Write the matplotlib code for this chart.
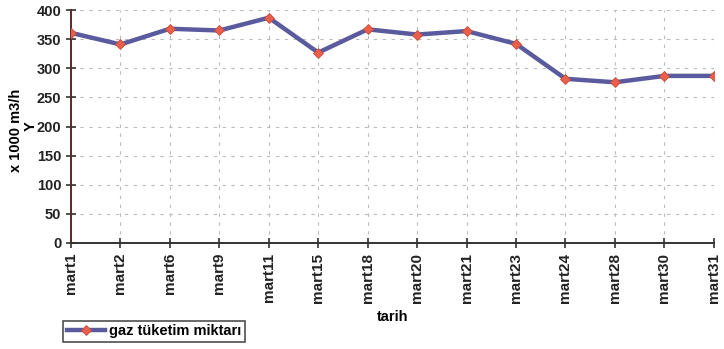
import numpy as np
import matplotlib.pyplot as plt
from matplotlib.ticker import MultipleLocator

days = ["mart1", "mart2", "mart6", "mart9", "mart11", "mart15", "mart18",
        "mart20", "mart21", "mart23", "mart24", "mart28", "mart30", "mart31"]
gas = [361, 341, 368, 365, 387, 327, 367, 358, 364, 342, 282, 276, 287, 287]

plt.rcParams['font.family'] = ['Liberation Sans', 'DejaVu Sans']
plt.rcParams['font.weight'] = 'bold'

fig = plt.figure(figsize=(7.24, 3.49), dpi=100)
ax = fig.add_axes([0.098, 0.304, 0.888, 0.667])

x = np.arange(len(days))
ax.plot(x, gas, color="#5a5a9e", lw=3.2, marker="D", ms=5.5,
        mfc="#e8604c", mec="#c84a3a", mew=0.6, label="gaz tüketim miktarı",
        zorder=3)

ax.set_xlim(0, len(days) - 1)
ax.set_ylim(0, 400)
ax.yaxis.set_major_locator(MultipleLocator(50))
ax.set_xticks(x)
ax.set_xticklabels(days, rotation=90, fontsize=11, fontweight='bold')
for lab in ax.get_yticklabels():
    lab.set_fontsize(10.5)
    lab.set_fontweight('bold')

ax.grid(True, color="#bbbbbb", ls=(0, (3, 5)), lw=0.8)
ax.spines['top'].set_visible(False)
ax.spines['right'].set_visible(False)
ax.spines['left'].set_color("#5a2a2a")
ax.spines['left'].set_linewidth(1.4)
ax.spines['bottom'].set_color("#333333")
ax.spines['bottom'].set_linewidth(1.4)
ax.tick_params(axis='both', direction='inout', length=7, width=1.2, colors="#333333",
               labelcolor="#222222")

ax.set_xlabel("tarih", fontsize=10.5, fontweight='bold', labelpad=5)
fig.text(0.022, 0.625, "x 1000 m3/h", rotation=90, ha='center', va='center',
         fontsize=10.5, fontweight='bold')
fig.text(0.042, 0.64, "Y", rotation=90, ha='center', va='center',
         fontsize=10.5, fontweight='bold')

leg = fig.legend(loc='lower left', bbox_to_anchor=(0.083, 0.012), frameon=True,
                 fancybox=False, edgecolor="#222222", fontsize=10.5,
                 handlelength=2.6, borderpad=0.25, borderaxespad=0.2,
                 handletextpad=0.3)
leg.get_frame().set_linewidth(1.2)

fig.savefig("out.png", dpi=100)
